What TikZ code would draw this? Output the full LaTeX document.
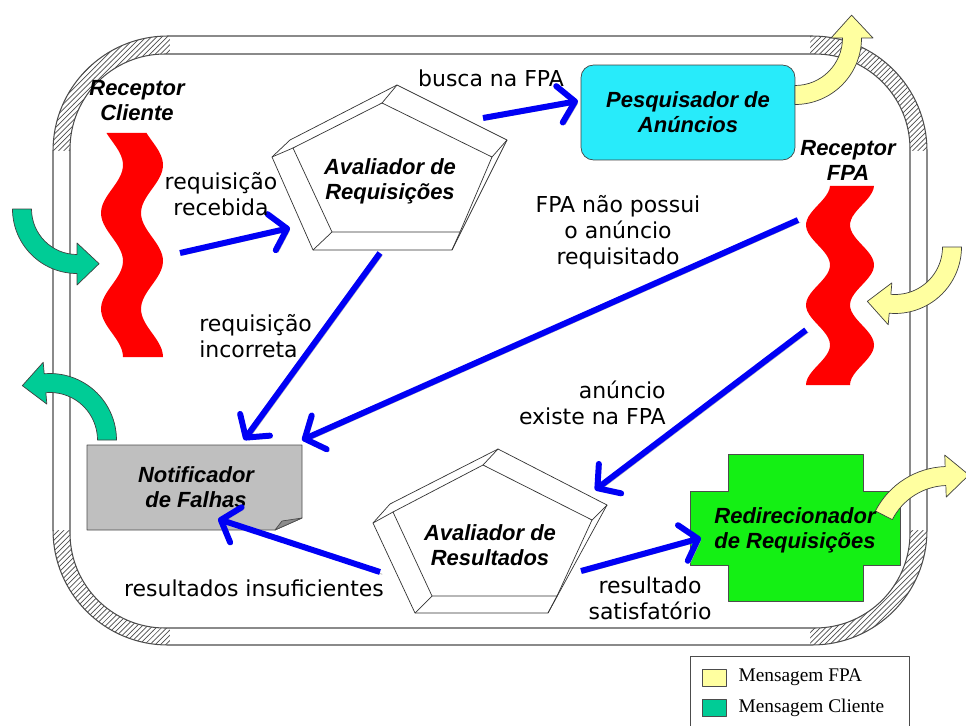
\documentclass[tikz,border=0pt]{standalone}
\usepackage{fontspec}
\setmainfont{DejaVu Sans}
\newfontfamily\namefont{Liberation Sans}
\newfontfamily\legfont{Liberation Serif}
\usepackage{tikz}
\usetikzlibrary{arrows.meta,patterns,positioning}

\definecolor{msgfpa}{RGB}{255,255,160}
\definecolor{msgcli}{RGB}{0,204,150}
\definecolor{pesq}{RGB}{40,235,250}
\definecolor{redir}{RGB}{20,240,20}
\definecolor{flowblue}{RGB}{0,0,245}

\newcommand{\bendarrow}[6]{%
  \filldraw[draw=black!75,thin,fill=#6,shift={#1}]
    ({#3}:{#2+9.5}) arc[start angle=#3,end angle=#4,radius=#2+9.5]
    -- ({#4}:{#2+21}) -- ({#5}:{#2+4}) -- ({#4}:{#2-21}) -- ({#4}:{#2-9.5})
    arc[start angle=#4,end angle=#3,radius=#2-9.5] -- cycle;}

\begin{document}
\begin{tikzpicture}[x=0.02cm,y=-0.02cm,line join=round]

  \tikzstyle{flow}=[draw=flowblue,line width=3.4pt,-{Straight Barb[length=9pt,width=21pt,round]},
                    preaction={draw=black!30,transform canvas={shift={(1.3pt,-1.3pt)}}}]
  \tikzstyle{msg}=[font=\fontsize{12.5}{14.7}\selectfont,align=center,inner sep=0pt]
  \tikzstyle{agent}=[font=\namefont\bfseries\itshape\fontsize{12.5}{14.2}\selectfont,align=center,inner sep=0pt]
  \tikzstyle{bevel}=[draw=black!80,thin]
  \tikzstyle{swatch}=[draw=black!70,minimum width=0.48cm,minimum height=0.34cm,inner sep=0pt]
  \tikzstyle{legtext}=[font=\legfont\fontsize{11}{13}\selectfont,inner sep=0pt]

  \useasboundingbox (0,0) rectangle (966,726);

  \fill[pattern=north east lines,pattern color=black!70,even odd rule]
    [rounded corners=2.3cm] (53,36) rectangle (927,645)
    [rounded corners=1.9cm] (70,54) rectangle (910,628);
  \fill[white] (170,34) rectangle (810,56) (170,626) rectangle (810,647)
               (51,151) rectangle (72,530) (908,151) rectangle (929,530);
  \draw[black!70,semithick] [rounded corners=2.3cm] (53,36) rectangle (927,645);
  \draw[black!70,semithick] [rounded corners=1.9cm] (70,54) rectangle (910,628);

  \fill[red] plot[variable=\t,domain=133:357,samples=60,smooth] ({132+11*sin((\t-141)*3.75)-20},\t)
    -- plot[variable=\t,domain=357:133,samples=60,smooth] ({132+11*sin((\t-141)*3.75)+20},\t) -- cycle;
  \fill[red] plot[variable=\t,domain=186:385,samples=60,smooth] ({840+12*sin((\t-245)*4.5)-22},\t)
    -- plot[variable=\t,domain=385:186,samples=60,smooth] ({840+12*sin((\t-245)*4.5)+22},\t) -- cycle;

  \filldraw[bevel,fill=white] (272,157) -- (290,140) -- (397,85) -- (507,140) -- (452,250) -- (313,250) -- cycle;
  \draw[bevel] (293,148) -- (382,103) -- (492,157) -- (460,232) -- (332,232) -- cycle;
  \draw[bevel] (397,85) -- (382,103) (507,140) -- (492,157) (452,250) -- (460,232)
               (313,250) -- (332,232) (272,157) -- (293,148);

  \filldraw[bevel,fill=white] (373,523) -- (390,504) -- (498,449) -- (607,505) -- (548,613) -- (415,613) -- cycle;
  \draw[bevel] (393,512) -- (483,465) -- (592,520) -- (557,596) -- (432,596) -- cycle;
  \draw[bevel] (498,449) -- (483,465) (607,505) -- (592,520) (548,613) -- (557,596)
               (415,613) -- (432,596) (373,523) -- (393,512);

  \node[draw=black!75,fill=pesq,rounded corners=0.25cm,minimum width=4.28cm,minimum height=1.9cm]
    (PB) at (688,112.5) {};

  \filldraw[draw=black!70,fill=black!25] (87,445) -- (302,445) -- (302,518) -- (275,530) -- (87,530) -- cycle;
  \filldraw[draw=black!70,fill=black!45] (275,530) -- (282,521) -- (302,518) -- cycle;

  \filldraw[draw=black!70,fill=redir] (728,454) -- (863,454) -- (863,491) -- (900,491) -- (900,565)
    -- (863,565) -- (863,601) -- (728,601) -- (728,565) -- (690,565) -- (690,491) -- (728,491) -- cycle;

  \bendarrow{(77,209)}{55}{180}{90}{68}{msgcli}
  \bendarrow{(50,440)}{57}{360}{265}{243}{msgcli}
  \bendarrow{(795,38)}{57}{90}{0}{-22}{msgfpa}
  \bendarrow{(895,247)}{57}{0}{95}{117}{msgfpa}
  \bendarrow{(948,548)}{72}{207}{268}{286}{msgfpa}

  \node[agent] (RC) at (137,101) {Receptor\\Cliente};
  \node[agent] (RF) at (848,160) {Receptor\\FPA};
  \node[agent] (AR) at (390,181) {Avaliador de\\Requisições};
  \node[agent] (PA) at (688,112) {Pesquisador de\\Anúncios};
  \node[agent] (NF) at (196,487) {Notificador\\de Falhas};
  \node[agent] (AS) at (490,545) {Avaliador de\\Resultados};
  \node[agent] (RR) at (795,530) {Redirecionador\\de Requisições};

  \coordinate (RCout)  at (180,253);
  \coordinate (ARin)   at (290,228);
  \coordinate (ARout1) at (483,118);
  \coordinate (PAin)   at (578,101);
  \coordinate (ARout2) at (380,253);
  \coordinate (NFin1)  at (244,440);
  \coordinate (RFout1) at (798,220);
  \coordinate (NFin2)  at (302,440);
  \coordinate (RFout2) at (806,330);
  \coordinate (ASin)   at (595,490);
  \coordinate (ASout1) at (380,572);
  \coordinate (NFin3)  at (218,519);
  \coordinate (ASout2) at (581,571);
  \coordinate (RRin)   at (701,538);

  \path (RCout)  edge [flow] (ARin)
        (ARout1) edge [flow] (PAin)
        (ARout2) edge [flow] (NFin1)
        (RFout1) edge [flow] (NFin2)
        (RFout2) edge [flow] (ASin)
        (ASout1) edge [flow] (NFin3)
        (ASout2) edge [flow] (RRin);

  \node[msg] (M1) at (221,194) {requisição\\recebida};
  \node[msg] (M2) at (491,78) {busca na FPA};
  \node[msg,align=left,anchor=west] (M3) at (199,336) {requisição\\incorreta};
  \node[msg] (M4) at (618,232) {FPA não possui\\o anúncio\\requisitado};
  \node[msg,align=right,anchor=east] (M5) at (666,403) {anúncio\\existe na FPA};
  \node[msg] (M6) at (254,588) {resultados insuficientes};
  \node[msg] (M7) at (650,598) {resultado\\satisfatório};

  \draw[black!70] (690,656) rectangle (909,740);
  \node[swatch,fill=msgfpa] (SF) at (714,677.5) {};
  \node[swatch,fill=msgcli] (SC) at (714,708) {};
  \node[legtext,right=0.24cm of SF] (LF) {Mensagem FPA};
  \node[legtext,right=0.24cm of SC] (LC) {Mensagem Cliente};
\end{tikzpicture}
\end{document}
